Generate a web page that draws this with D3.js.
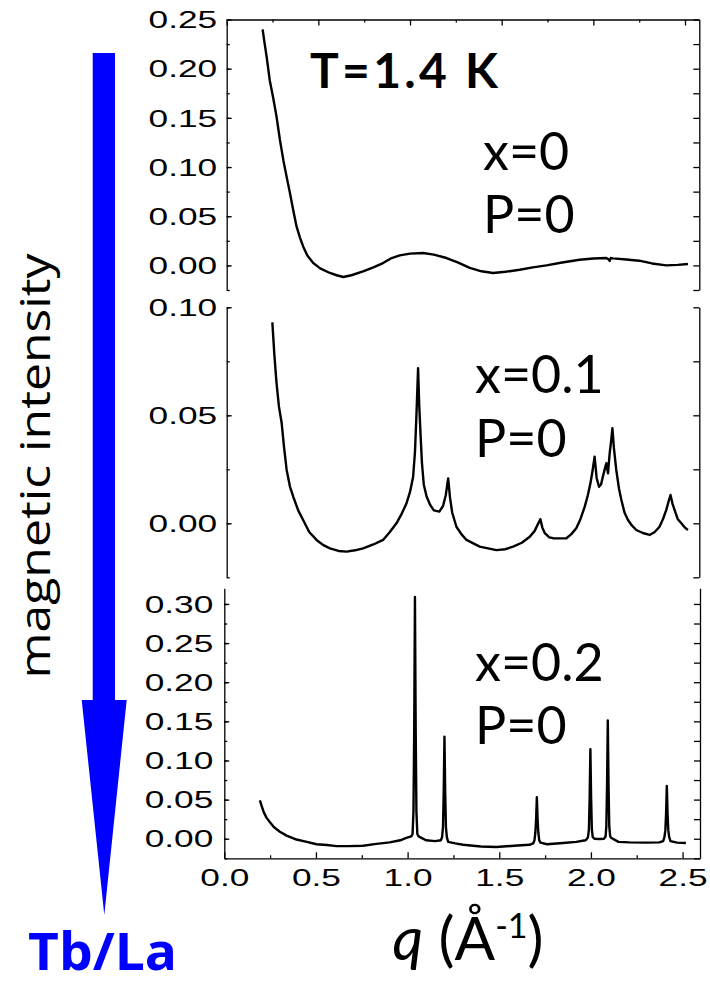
<!DOCTYPE html>
<html>
<head>
<meta charset="utf-8">
<script src="https://cdn.jsdelivr.net/npm/d3@7"></script>
<style>
  body { margin: 0; background: #fff; }
  svg { display: block; }
</style>
</head>
<body>
<svg id="chart"></svg>
<script>
// x = 0, P = 0
const qX0 = [0.196, 0.205, 0.218, 0.235, 0.254, 0.272, 0.290, 0.309, 0.327, 0.345, 0.363, 0.381, 0.400, 0.417, 0.440, 0.472, 0.510, 0.563, 0.600, 0.636, 0.680, 0.744, 0.800, 0.853, 0.900, 0.944, 1.000, 1.071, 1.130, 1.199, 1.260, 1.326, 1.390, 1.453, 1.520, 1.598, 1.670, 1.744, 1.830, 1.925, 2.000, 2.071, 2.084, 2.089, 2.095, 2.107, 2.180, 2.250, 2.320, 2.398, 2.460, 2.516];
const intX0 = [0.240, 0.228, 0.212, 0.188, 0.170, 0.151, 0.128, 0.107, 0.090, 0.0736, 0.056, 0.0396, 0.028, 0.0193, 0.010, 0.0024, -0.003, -0.0077, -0.010, -0.0118, -0.010, -0.0061, -0.002, 0.0024, 0.0075, 0.0102, 0.0120, 0.0126, 0.011, 0.0075, 0.003, -0.0026, -0.006, -0.0077, -0.0065, -0.0044, -0.002, 0.0, 0.003, 0.0058, 0.007, 0.0075, 0.006, 0.0045, 0.0075, 0.0072, 0.006, 0.0048, 0.002, 0.0, 0.0005, 0.0014];

// x = 0.1, P = 0
const qX1 = [0.249, 0.260, 0.272, 0.285, 0.300, 0.313, 0.327, 0.345, 0.363, 0.390, 0.417, 0.450, 0.490, 0.525, 0.563, 0.610, 0.654, 0.700, 0.744, 0.800, 0.853, 0.890, 0.926, 0.955, 0.981, 1.000, 1.017, 1.027, 1.035, 1.044, 1.050, 1.058, 1.065, 1.075, 1.090, 1.110, 1.130, 1.160, 1.180, 1.195, 1.208, 1.218, 1.230, 1.253, 1.280, 1.308, 1.380, 1.471, 1.520, 1.562, 1.610, 1.653, 1.680, 1.697, 1.711, 1.722, 1.735, 1.760, 1.780, 1.820, 1.853, 1.880, 1.907, 1.930, 1.953, 1.970, 1.984, 1.995, 2.007, 2.018, 2.031, 2.042, 2.052, 2.065, 2.071, 2.080, 2.089, 2.097, 2.104, 2.112, 2.125, 2.140, 2.153, 2.170, 2.189, 2.210, 2.234, 2.270, 2.307, 2.335, 2.361, 2.380, 2.398, 2.410, 2.421, 2.432, 2.443, 2.460, 2.480, 2.500, 2.516];
const intX1 = [0.093, 0.078, 0.0648, 0.054, 0.0463, 0.035, 0.0247, 0.017, 0.0123, 0.006, 0.0015, -0.004, -0.0077, -0.010, -0.0116, -0.0128, -0.0131, -0.0125, -0.0116, -0.0098, -0.0077, -0.004, 0.0, 0.0045, 0.0093, 0.0145, 0.0216, 0.033, 0.050, 0.0718, 0.055, 0.040, 0.028, 0.018, 0.0125, 0.0085, 0.006, 0.0054, 0.008, 0.013, 0.0208, 0.012, 0.005, -0.0016, -0.005, -0.0077, -0.0108, -0.0124, -0.012, -0.0108, -0.009, -0.0062, -0.0035, -0.0005, 0.0019, -0.002, -0.0045, -0.0065, -0.0069, -0.007, -0.0069, -0.005, -0.0023, 0.002, 0.0077, 0.013, 0.0185, 0.024, 0.0308, 0.021, 0.0169, 0.018, 0.0216, 0.026, 0.0278, 0.0231, 0.0324, 0.038, 0.044, 0.035, 0.0247, 0.016, 0.0108, 0.005, 0.0015, -0.001, -0.0031, -0.0045, -0.0054, -0.004, -0.0016, 0.002, 0.0062, 0.010, 0.0131, 0.009, 0.0062, 0.002, 0.0, -0.002, -0.0031];

// x = 0.2, P = 0
const qX2 = [0.194, 0.205, 0.215, 0.230, 0.249, 0.270, 0.303, 0.340, 0.394, 0.450, 0.503, 0.560, 0.612, 0.680, 0.757, 0.830, 0.902, 0.960, 0.993, 1.020, 1.027, 1.032, 1.036, 1.040, 1.044, 1.048, 1.053, 1.060, 1.100, 1.150, 1.181, 1.188, 1.193, 1.197, 1.201, 1.205, 1.209, 1.214, 1.221, 1.260, 1.303, 1.400, 1.484, 1.580, 1.665, 1.685, 1.692, 1.697, 1.701, 1.705, 1.709, 1.713, 1.718, 1.725, 1.760, 1.848, 1.920, 1.970, 1.977, 1.984, 1.989, 1.993, 1.997, 2.001, 2.005, 2.010, 2.020, 2.046, 2.070, 2.075, 2.080, 2.084, 2.088, 2.092, 2.096, 2.100, 2.105, 2.112, 2.150, 2.210, 2.300, 2.373, 2.394, 2.401, 2.406, 2.410, 2.414, 2.418, 2.422, 2.427, 2.434, 2.470, 2.518];
const intX2 = [0.049, 0.041, 0.034, 0.027, 0.021, 0.015, 0.009, 0.004, -0.001, -0.004, -0.007, -0.008, -0.0095, -0.0095, -0.009, -0.0065, -0.0047, -0.002, 0.001, 0.003, 0.006, 0.035, 0.14, 0.309, 0.14, 0.035, 0.006, 0.003, -0.002, -0.003, -0.002, 0.002, 0.015, 0.06, 0.1305, 0.06, 0.015, 0.002, -0.004, -0.006, -0.0077, -0.010, -0.0106, -0.009, -0.0077, -0.006, -0.002, 0.008, 0.025, 0.053, 0.025, 0.008, -0.002, -0.005, -0.007, -0.0055, -0.004, -0.002, -0.0005, 0.002, 0.012, 0.052, 0.1144, 0.052, 0.012, 0.002, 0.000, -0.0004, 0.000, 0.001, 0.003, 0.016, 0.069, 0.151, 0.069, 0.016, 0.003, 0.001, -0.004, -0.0047, -0.005, -0.0047, -0.003, 0.002, 0.011, 0.032, 0.0676, 0.032, 0.011, 0.002, -0.003, -0.005, -0.0055];

const xTicks = [0, 0.5, 1, 1.5, 2, 2.5];
const xMinorTicks = [0.25, 0.75, 1.25, 1.75, 2.25];
const yTicksX0 = [0, 0.05, 0.10, 0.15, 0.20, 0.25];
const yTicksX1 = [0, 0.05, 0.10];
const yTicksX2 = [0, 0.05, 0.10, 0.15, 0.20, 0.25, 0.30];
const panelLabels = [["x=0", "P=0"], ["x=0.1", "P=0"], ["x=0.2", "P=0"]];

const width = 710, height = 984;
const svg = d3.select("#chart").attr("width", width).attr("height", height);

const tickFont = "'Liberation Sans', Arial, sans-serif";
const noteFont = "Lato, 'Open Sans', sans-serif";

const panels = [
  { q: qX0, v: intX0, yDomain: [-0.025, 0.25], top: 19.5, bottom: 290, left: 226.7, right: 699.3, xMax: 2.578,
    ticks: yTicksX0, labelPad: 9.5, topLine: true, bottomAxis: false, labels: panelLabels[0], labelX: 483, labelY: [170, 233] },
  { q: qX1, v: intX1, yDomain: [-0.025, 0.10], top: 307.3, bottom: 577.3, left: 226.7, right: 699.3, xMax: 2.578,
    ticks: yTicksX1, labelPad: 9.5, topLine: false, bottomAxis: false, labels: panelLabels[1], labelX: 475, labelY: [393, 457] },
  { q: qX2, v: intX2, yDomain: [-0.025, 0.32], top: 588.3, bottom: 858.3, left: 224.3, right: 700, xMax: 2.595,
    ticks: yTicksX2, labelPad: 11, topLine: false, bottomAxis: true, labels: panelLabels[2], labelX: 475, labelY: [681, 744] }
];

function minorSteps(lo, hi) {
  const out = [];
  for (let t = Math.ceil(lo / 0.025 - 1e-6); t * 0.025 <= hi + 1e-9; t++) out.push(+(t * 0.025).toFixed(3));
  return out;
}

function styleAxis(g) {
  g.selectAll("path, line").attr("stroke", "#000").attr("stroke-width", 1.3);
}

panels.forEach((p) => {
  const x = d3.scaleLinear().domain([0, p.xMax]).range([p.left, p.right]);
  const y = d3.scaleLinear().domain(p.yDomain).range([p.bottom, p.top]);
  const minor = minorSteps(p.yDomain[0], p.yDomain[1]);

  // left axis: minor ticks, then major with labels
  svg.append("g").attr("transform", `translate(${p.left},0)`)
    .call(d3.axisLeft(y).tickValues(minor).tickFormat("").tickSize(-3).tickSizeOuter(0))
    .call(styleAxis);
  const leftMajor = svg.append("g").attr("transform", `translate(${p.left},0)`)
    .call(d3.axisLeft(y).tickValues(p.ticks).tickFormat(d3.format(".2f")).tickSize(-5).tickSizeOuter(0))
    .call(styleAxis);
  leftMajor.select(".domain").remove();
  leftMajor.selectAll("text")
    .attr("x", 0).attr("dy", "0.35em")
    .attr("transform", `translate(${-p.labelPad},0) scale(1.5,1)`)
    .attr("font-family", tickFont).attr("font-size", 23.5).attr("fill", "#000");

  // right axis
  svg.append("g").attr("transform", `translate(${p.right},0)`)
    .call(d3.axisRight(y).tickValues(minor).tickFormat("").tickSize(-6).tickSizeOuter(0))
    .call(styleAxis);

  if (p.topLine) {
    svg.append("g").attr("transform", `translate(0,${p.top})`)
      .call(d3.axisTop(x).tickValues(xMinorTicks).tickFormat("").tickSize(-3).tickSizeOuter(0))
      .call(styleAxis);
    const tg = svg.append("g").attr("transform", `translate(0,${p.top})`)
      .call(d3.axisTop(x).tickValues(xTicks).tickFormat("").tickSize(-6).tickSizeOuter(0))
      .call(styleAxis);
    tg.select(".domain").remove();
  }

  if (p.bottomAxis) {
    svg.append("g").attr("transform", `translate(0,${p.bottom})`)
      .call(d3.axisBottom(x).tickValues(xMinorTicks).tickFormat("").tickSize(-3).tickSizeOuter(0))
      .call(styleAxis);
    const bg = svg.append("g").attr("transform", `translate(0,${p.bottom})`)
      .call(d3.axisBottom(x).tickValues(xTicks).tickFormat(d3.format(".1f")).tickSize(-6).tickSizeOuter(0))
      .call(styleAxis);
    bg.select(".domain").remove();
    bg.selectAll("text")
      .attr("y", 0).attr("dy", 0)
      .attr("transform", "translate(0,28) scale(1.5,1)")
      .attr("font-family", tickFont).attr("font-size", 23.5).attr("fill", "#000");
  }

  const pts = p.q.map((q, i) => [q, p.v[i]]);
  svg.append("path")
    .datum(pts)
    .attr("fill", "none")
    .attr("stroke", "#000")
    .attr("stroke-width", 2.4)
    .attr("stroke-linejoin", "round")
    .attr("d", d3.line().x((d) => x(d[0])).y((d) => y(d[1])));

  svg.selectAll(null)
    .data(p.labels)
    .join("text")
    .attr("x", p.labelX)
    .attr("y", (d, i) => p.labelY[i])
    .attr("font-family", noteFont)
    .attr("font-size", 52)
    .attr("fill", "#000")
    .text((d) => d);
});

svg.append("text")
  .attr("x", 310).attr("y", 88)
  .attr("font-family", noteFont).attr("font-weight", "bold")
  .attr("font-size", 48)
  .attr("textLength", 188).attr("lengthAdjust", "spacing")
  .text("T=1.4 K");

// x axis title
const xt = svg.append("text")
  .attr("x", 468).attr("y", 960)
  .attr("text-anchor", "middle")
  .attr("font-family", noteFont)
  .attr("font-size", 60);
xt.append("tspan").attr("font-style", "italic").text("q");
xt.append("tspan").text(" (Å");
xt.append("tspan").attr("font-size", 34).attr("dy", -22).text("-1");
xt.append("tspan").attr("dy", 22).text(")");

// y axis title
svg.append("text")
  .attr("transform", "translate(50,466) rotate(-90)")
  .attr("text-anchor", "middle")
  .attr("font-family", "'Open Sans', sans-serif")
  .attr("font-size", 42)
  .attr("textLength", 425).attr("lengthAdjust", "spacingAndGlyphs")
  .text("magnetic intensity");

// blue arrow
const arrow = d3.path();
arrow.moveTo(92.7, 53);
arrow.lineTo(115, 53);
arrow.lineTo(115, 700);
arrow.lineTo(126.7, 700);
arrow.lineTo(104.3, 915);
arrow.lineTo(81.7, 700);
arrow.lineTo(92.7, 700);
arrow.closePath();
svg.append("path").attr("d", arrow.toString()).attr("fill", "#0000ff");

svg.append("text")
  .attr("x", 28).attr("y", 970)
  .attr("font-family", "'Open Sans', sans-serif").attr("font-weight", "bold")
  .attr("font-size", 52).attr("fill", "#0000ff")
  .attr("textLength", 149).attr("lengthAdjust", "spacingAndGlyphs")
  .text("Tb/La");
</script>
</body>
</html>
